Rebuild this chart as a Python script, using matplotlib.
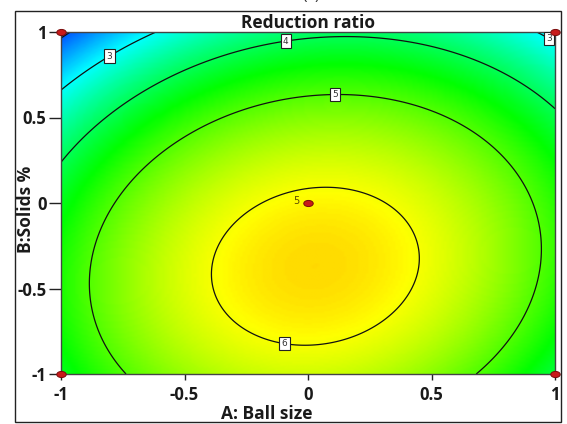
import numpy as np
import matplotlib.pyplot as plt
from matplotlib.colors import LinearSegmentedColormap
from matplotlib.patches import Rectangle
from matplotlib.path import Path
from matplotlib.transforms import Affine2D

plt.rcParams['font.family'] = ['Open Sans', 'DejaVu Sans']

# fitted quadratic model in coded units (A: Ball size, B: Solids %)
coef_names = ['const', 'A', 'B', 'AB', 'A^2', 'B^2']
coef_values = [6.09, 0.195, -0.948, 0.28, -1.53, -1.27]

levels = [2, 3, 4, 5, 6]
label_spots = [(-0.80, 0.85), (-0.09, 0.94), (0.11, 0.64), (-0.09, -0.78), (0.97, 0.95)]

# design points (coded) and replicate count at the centre
design_a = [-1, 1, -1, 1, 0]
design_b = [-1, -1, 1, 1, 0]
center_reps = 5

ticks = [-1, -0.5, 0, 0.5, 1]
tick_labels = ['-1', '-0.5', '0', '0.5', '1']

b0, bA, bB, bAB, bAA, bBB = coef_values
A, B = np.meshgrid(np.linspace(-1, 1, 201), np.linspace(-1, 1, 201))
Z = b0 + bA * A + bB * B + bAB * A * B + bAA * A ** 2 + bBB * B ** 2

cmap = LinearSegmentedColormap.from_list(
    'dx', ['#0000ff', '#00ffff', '#00ff00', '#ffff00', '#ff0000'])

W, H = 567, 424
fig = plt.figure(figsize=(W / 100, H / 100), dpi=100)
ax = fig.add_axes([61 / W, 1 - 374 / H, 494 / W, 342 / H])

ax.imshow(Z, origin='lower', extent=[-1, 1, -1, 1], cmap=cmap,
          vmin=1.4, vmax=7.6, aspect='auto', interpolation='bilinear')
cs = ax.contour(A, B, Z, levels=levels, colors='#111111', linewidths=0.9)
lbls = ax.clabel(cs, manual=label_spots, inline=False,
                 fontsize=6.5, fmt='%d', colors='#333333')
for t in lbls:
    t.set_rotation(0)
    t.set_family('DejaVu Sans')
    t.set_bbox(dict(boxstyle='square,pad=0.25', fc='white', ec='#222222', lw=0.8))

# oval design-point marker
oval = Path.unit_circle().transformed(Affine2D().scale(1, 0.65))
ax.plot(design_a, design_b, linestyle='none', marker=oval, ms=6.8,
        mfc='#c81a1a', mec='#7a0a0a', mew=0.7, clip_on=False, zorder=5)
ax.text(-0.035, 0.01, str(center_reps), fontsize=7, color='#5a4a00',
        family='DejaVu Sans', ha='right', va='center', zorder=5)

ax.set_xlim(-1, 1)
ax.set_ylim(-1, 1)
ax.set_xticks(ticks)
ax.set_xticklabels(tick_labels)
ax.set_yticks(ticks)
ax.set_yticklabels(tick_labels)
ax.tick_params(direction='out', width=1, color='#222222',
               labelsize=12, labelcolor='#1a1a1a')
ax.tick_params(axis='x', length=4.5, pad=4)
ax.tick_params(axis='y', length=8.5, pad=2)
for lab in ax.get_xticklabels() + ax.get_yticklabels():
    lab.set_fontweight('bold')
for sp in ax.spines.values():
    sp.set_color('#444444')
    sp.set_linewidth(1)

ax.set_title('Reduction ratio', fontsize=12.5, fontweight='bold',
             color='#1a1a1a', pad=3)
ax.set_xlabel('A: Ball size', fontsize=12.5, fontweight='bold', color='#1a1a1a')
ax.xaxis.set_label_coords((267 - 61) / 494, -(419 - 374) / 342)
ax.xaxis.label.set_va('baseline')
ax.set_ylabel('B:Solids %', fontsize=12.5, fontweight='bold', color='#1a1a1a')
ax.yaxis.set_label_coords(-(61 - 26) / 494, (374 - 209) / 342)
ax.yaxis.label.set_va('center')

fig.patches.append(Rectangle((15 / W, 1 - 422 / H), 546 / W, 411 / H,
                             transform=fig.transFigure, fill=False,
                             ec='#222222', lw=1))
fig.text(311 / W, 1 - 3 / H, '(a)', fontsize=11, ha='center', va='bottom',
         color='#333333')

fig.savefig('out.png', dpi=100)
